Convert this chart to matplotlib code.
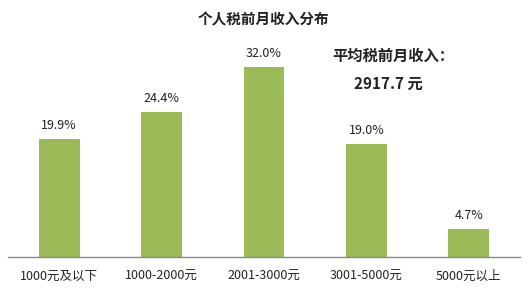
import matplotlib
matplotlib.use("Agg")
import matplotlib.pyplot as plt

plt.rcParams['font.family'] = ['Noto Sans CJK SC', 'DejaVu Sans']

# --- dados ---
categorias = ['1000元及以下', '1000-2000元', '2001-3000元', '3001-5000元', '5000元以上']
valores = [19.9, 24.4, 32.0, 19.0, 4.7]
titulo = '个人税前月收入分布'
nota_1 = '平均税前月收入：'
nota_2 = '2917.7 元'

fig = plt.figure(figsize=(5.3, 2.94), dpi=100)
ax = fig.add_axes([0.0151, 0.1259, 0.966, 0.808])

x = range(len(categorias))
ax.bar(x, valores, width=0.4, color='#9BBB59')

for xi, v in zip(x, valores):
    ax.text(xi, v + 1.2, f'{v:.1f}%', ha='center', va='bottom', fontsize=9, color='#222222')

ax.set_xlim(-0.5, len(categorias) - 0.5)
ax.set_ylim(0, 40)
ax.set_yticks([])
ax.set_xticks(list(x))
ax.set_xticklabels(categorias, fontsize=9, color='#222222')
ax.tick_params(axis='x', length=0, pad=9)

for s in ['top', 'right', 'left']:
    ax.spines[s].set_visible(False)
ax.spines['bottom'].set_color('#888888')
ax.spines['bottom'].set_linewidth(1)

fig.text(0.498, 0.935, titulo, ha='center', va='center', fontsize=10.5, fontweight='bold', color='#222222')
fig.text(0.742, 0.81, nota_1, ha='center', va='center', fontsize=11, fontweight='bold', color='#222222')
fig.text(0.732, 0.715, nota_2, ha='center', va='center', fontsize=11, fontweight='bold', color='#222222')

fig.savefig('out.png', dpi=100)
